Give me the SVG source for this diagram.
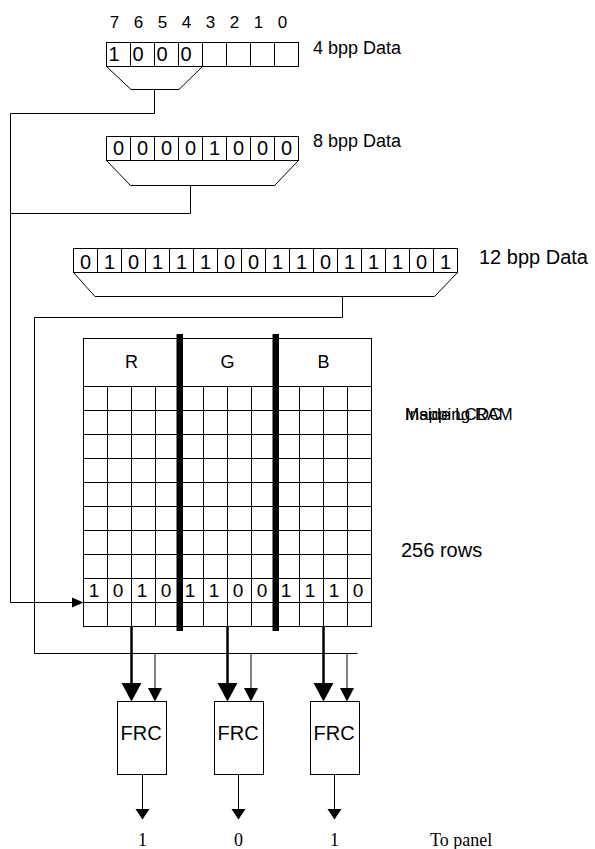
<svg xmlns="http://www.w3.org/2000/svg" width="595" height="849" viewBox="0 0 595 849">
<style>
.ln{stroke:#000;stroke-width:1;fill:none}
.thick{stroke:#000;stroke-width:2.5;fill:none}
.cell{fill:#fff;stroke:#000;stroke-width:1}
.s{font-family:"Liberation Sans",Arial,Helvetica,sans-serif;fill:#000}
.d{font-size:20px;text-anchor:middle}
.d19{font-size:19px;text-anchor:middle}
.lbl{font-size:18px}
.hd{font-size:18px;text-anchor:middle}
.serif{font-family:"Liberation Serif","Times New Roman",serif;font-size:18px;fill:#000}
.ah{fill:#000;stroke:none}
</style>
<rect width="595" height="849" fill="#fff"/>

<g id="bits-header" class="s" font-size="17" text-anchor="middle">
<text x="114.5" y="28">7</text><text x="138.5" y="28">6</text><text x="162.5" y="28">5</text><text x="186.5" y="28">4</text>
<text x="210.5" y="28">3</text><text x="234.5" y="28">2</text><text x="258.5" y="28">1</text><text x="282.5" y="28">0</text>
</g>

<g id="data4">
<rect class="cell" x="106.5" y="42.5" width="192" height="24"/>
<path class="ln" d="M130.5 42.5V66.5M154.5 42.5V66.5M178.5 42.5V66.5M202.5 42.5V66.5M226.5 42.5V66.5M250.5 42.5V66.5M274.5 42.5V66.5"/>
<path class="ln" d="M106.5 66.5L131 89.5H179L202.5 66.5"/>
<g class="s d"><text x="114" y="61">1</text><text x="138" y="61">0</text><text x="162" y="61">0</text><text x="186" y="61">0</text></g>
<text class="s lbl" x="313" y="54">4 bpp Data</text>
</g>

<g id="data8">
<rect class="cell" x="106.5" y="136.5" width="192" height="24"/>
<path class="ln" d="M130.5 136.5V160.5M154.5 136.5V160.5M178.5 136.5V160.5M202.5 136.5V160.5M226.5 136.5V160.5M250.5 136.5V160.5M274.5 136.5V160.5"/>
<path class="ln" d="M106.5 160.5L130.5 185.5H274.5L298.5 160.5"/>
<g class="s d"><text x="118.5" y="155">0</text><text x="142.5" y="155">0</text><text x="166.5" y="155">0</text><text x="190.5" y="155">0</text><text x="214.5" y="155">1</text><text x="238.5" y="155">0</text><text x="262.5" y="155">0</text><text x="286.5" y="155">0</text></g>
<text class="s lbl" x="313" y="147">8 bpp Data</text>
</g>

<g id="data12">
<rect class="cell" x="73.5" y="248.5" width="384" height="24"/>
<path class="ln" d="M97.5 248.5V272.5M121.5 248.5V272.5M145.5 248.5V272.5M169.5 248.5V272.5M193.5 248.5V272.5M217.5 248.5V272.5M241.5 248.5V272.5M265.5 248.5V272.5M289.5 248.5V272.5M313.5 248.5V272.5M337.5 248.5V272.5M361.5 248.5V272.5M385.5 248.5V272.5M409.5 248.5V272.5M433.5 248.5V272.5"/>
<path class="ln" d="M73.5 272.5L95 296.5H434.5L457.5 272.5"/>
<g class="s d"><text x="85.5" y="268.5">0</text><text x="109.5" y="268.5">1</text><text x="133.5" y="268.5">0</text><text x="157.5" y="268.5">1</text><text x="181.5" y="268.5">1</text><text x="205.5" y="268.5">1</text><text x="229.5" y="268.5">0</text><text x="253.5" y="268.5">0</text><text x="277.5" y="268.5">1</text><text x="301.5" y="268.5">1</text><text x="325.5" y="268.5">0</text><text x="349.5" y="268.5">1</text><text x="373.5" y="268.5">1</text><text x="397.5" y="268.5">1</text><text x="421.5" y="268.5">0</text><text x="445.5" y="268.5">1</text></g>
<text class="s" font-size="20" x="479" y="264">12 bpp Data</text>
</g>

<g id="lut">
<rect class="cell" x="83.5" y="338.5" width="288" height="288"/>
<path class="ln" d="M83.5 386.5H371.5M83.5 410.5H371.5M83.5 434.5H371.5M83.5 458.5H371.5M83.5 482.5H371.5M83.5 506.5H371.5M83.5 530.5H371.5M83.5 554.5H371.5M83.5 578.5H371.5M83.5 602.5H371.5"/>
<path class="ln" d="M107.5 386.5V626.5M131.5 386.5V626.5M155.5 386.5V626.5M203.5 386.5V626.5M227.5 386.5V626.5M251.5 386.5V626.5M299.5 386.5V626.5M323.5 386.5V626.5M347.5 386.5V626.5"/>
<rect x="176.5" y="334" width="6.5" height="297" fill="#000"/>
<rect x="272.5" y="334" width="6.5" height="297" fill="#000"/>
<g class="s hd"><text x="131.5" y="368">R</text><text x="227.5" y="368">G</text><text x="323.5" y="368">B</text></g>
<g class="s d19"><text x="94" y="596.5">1</text><text x="118" y="596.5">0</text><text x="142" y="596.5">1</text><text x="166" y="596.5">0</text><text x="190" y="596.5">1</text><text x="214" y="596.5">1</text><text x="238" y="596.5">0</text><text x="262" y="596.5">0</text><text x="286" y="596.5">1</text><text x="310" y="596.5">1</text><text x="334" y="596.5">1</text><text x="358" y="596.5">0</text></g>
<text class="s" font-size="17" x="405" y="420">Mapping RAM</text>
<text class="s" font-size="17" x="405" y="420">Inside LCDC</text>
<text class="s" font-size="20" x="401" y="557">256 rows</text>
</g>

<g id="frc-r"><rect class="cell" x="117.5" y="701.5" width="49" height="73"/><text class="s" font-size="20" x="120.5" y="740">FRC</text></g>
<g id="frc-g"><rect class="cell" x="214.5" y="701.5" width="49" height="73"/><text class="s" font-size="20" x="217.5" y="740">FRC</text></g>
<g id="frc-b"><rect class="cell" x="310.5" y="701.5" width="49" height="73"/><text class="s" font-size="20" x="313.5" y="740">FRC</text></g>

<g id="outputs">
<text class="serif" x="142.5" y="846" text-anchor="middle">1</text>
<text class="serif" x="238.5" y="846" text-anchor="middle">0</text>
<text class="serif" x="334.5" y="846" text-anchor="middle">1</text>
<text class="serif" x="430" y="846">To panel</text>
</g>

<g id="connectors">
<path class="ln" d="M154.5 89.5V113.5H10.5V602.5H73"/>
<polygon class="ah" points="72,597.5 83.5,602.5 72,607.5"/>
<path class="ln" d="M190.5 185.5V213.5H10.5"/>
<path class="ln" d="M342.5 296.5V317.5H34.5V653.5H357.5"/>
<path class="thick" d="M131.5 626.5V684M227.5 626.5V684M323.5 626.5V684"/>
<polygon class="ah" points="121.5,683 141.5,683 131.5,701.5"/>
<polygon class="ah" points="217.5,683 237.5,683 227.5,701.5"/>
<polygon class="ah" points="313.5,683 333.5,683 323.5,701.5"/>
<path class="ln" d="M155 653.5V689M251 653.5V689M347 653.5V689"/>
<polygon class="ah" points="148,688 162,688 155,701.5"/>
<polygon class="ah" points="244,688 258,688 251,701.5"/>
<polygon class="ah" points="340,688 354,688 347,701.5"/>
<path class="ln" d="M142.5 774.5V810M238.5 774.5V810M334.5 774.5V810"/>
<polygon class="ah" points="135.5,809 149.5,809 142.5,819.5"/>
<polygon class="ah" points="231.5,809 245.5,809 238.5,819.5"/>
<polygon class="ah" points="327.5,809 341.5,809 334.5,819.5"/>
</g>
</svg>
